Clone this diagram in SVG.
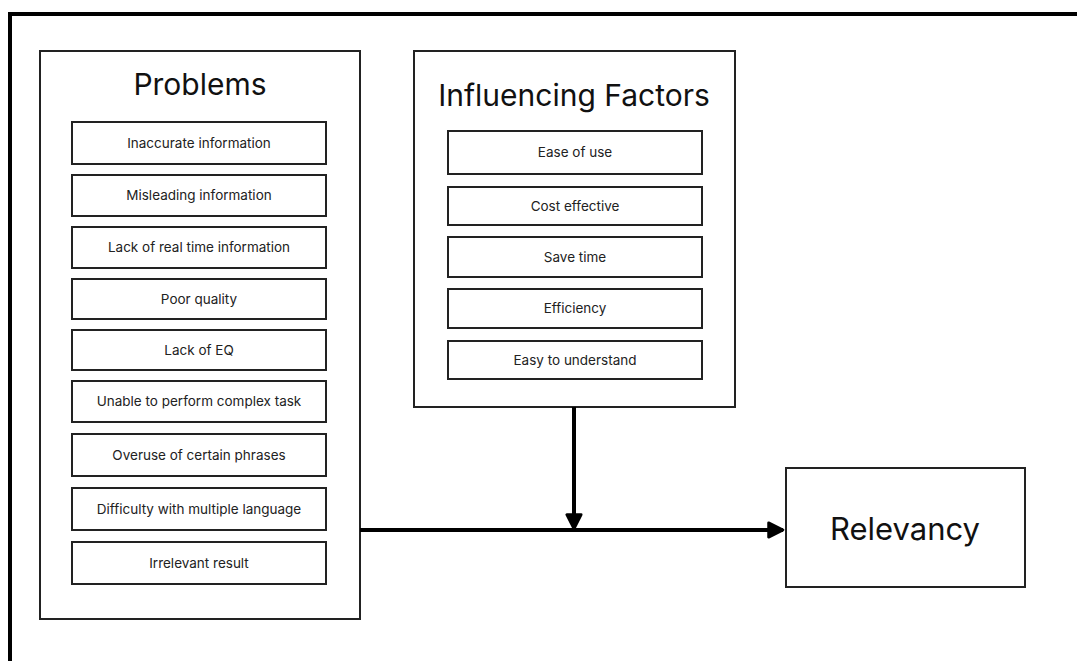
<svg xmlns="http://www.w3.org/2000/svg" width="1077" height="661" viewBox="0 0 1077 661">
<defs>
<style>
.frame{fill:none;stroke:#000;stroke-width:4}
.box{fill:#fff;stroke:#222;stroke-width:2}
.item{fill:#fff;stroke:#222;stroke-width:2}
.t{font-family:Inter,"Liberation Sans",sans-serif;fill:#222;text-anchor:middle}
.title{font-size:30px;fill:#111}
.lbl{font-size:13.5px}
.conn{stroke:#000;stroke-width:4;fill:none}
</style>
<marker id="ah" viewBox="0 0 10 10" refX="9" refY="5" markerWidth="4.5" markerHeight="4.5" orient="auto" markerUnits="strokeWidth">
<path d="M1,1 L9,5 L1,9 Z" fill="#000" stroke="#000" stroke-width="1.5" stroke-linejoin="round"/>
</marker>
</defs>
<rect width="1077" height="661" fill="#fff"/>
<path class="frame" d="M10,661 L10,14 L1077,14"/>

<g id="problems">
<rect class="box" x="40" y="51" width="320" height="568"/>
<text class="t title" x="200" y="95">Problems</text>
<rect class="item" x="72" y="122" width="254" height="42"/>
<text class="t lbl" x="199" y="148">Inaccurate information</text>
<rect class="item" x="72" y="175" width="254" height="41"/>
<text class="t lbl" x="199" y="200">Misleading information</text>
<rect class="item" x="72" y="227" width="254" height="41"/>
<text class="t lbl" x="199" y="252">Lack of real time information</text>
<rect class="item" x="72" y="279" width="254" height="40"/>
<text class="t lbl" x="199" y="304">Poor quality</text>
<rect class="item" x="72" y="330" width="254" height="40"/>
<text class="t lbl" x="199" y="355">Lack of EQ</text>
<rect class="item" x="72" y="381" width="254" height="41"/>
<text class="t lbl" x="199" y="406">Unable to perform complex task</text>
<rect class="item" x="72" y="434" width="254" height="42"/>
<text class="t lbl" x="199" y="460">Overuse of certain phrases</text>
<rect class="item" x="72" y="488" width="254" height="42"/>
<text class="t lbl" x="199" y="514">Difficulty with multiple language</text>
<rect class="item" x="72" y="542" width="254" height="42"/>
<text class="t lbl" x="199" y="568">Irrelevant result</text>
</g>

<g id="factors">
<rect class="box" x="414" y="51" width="321" height="356"/>
<text class="t title" x="574" y="106">Influencing Factors</text>
<rect class="item" x="448" y="131" width="254" height="43"/>
<text class="t lbl" x="575" y="157">Ease of use</text>
<rect class="item" x="448" y="187" width="254" height="38"/>
<text class="t lbl" x="575" y="211">Cost effective</text>
<rect class="item" x="448" y="237" width="254" height="40"/>
<text class="t lbl" x="575" y="262">Save time</text>
<rect class="item" x="448" y="289" width="254" height="39"/>
<text class="t lbl" x="575" y="313">Efficiency</text>
<rect class="item" x="448" y="341" width="254" height="38"/>
<text class="t lbl" x="575" y="365">Easy to understand</text>
</g>

<g id="relevancy">
<rect class="box" x="786" y="468" width="239" height="119"/>
<text class="t title" x="905" y="540" style="font-size:31px">Relevancy</text>
</g>

<g id="connectors">
<path class="conn" d="M360,530 L783,530" marker-end="url(#ah)"/>
<path class="conn" d="M574,407 L574,529" marker-end="url(#ah)"/>
</g>
</svg>
